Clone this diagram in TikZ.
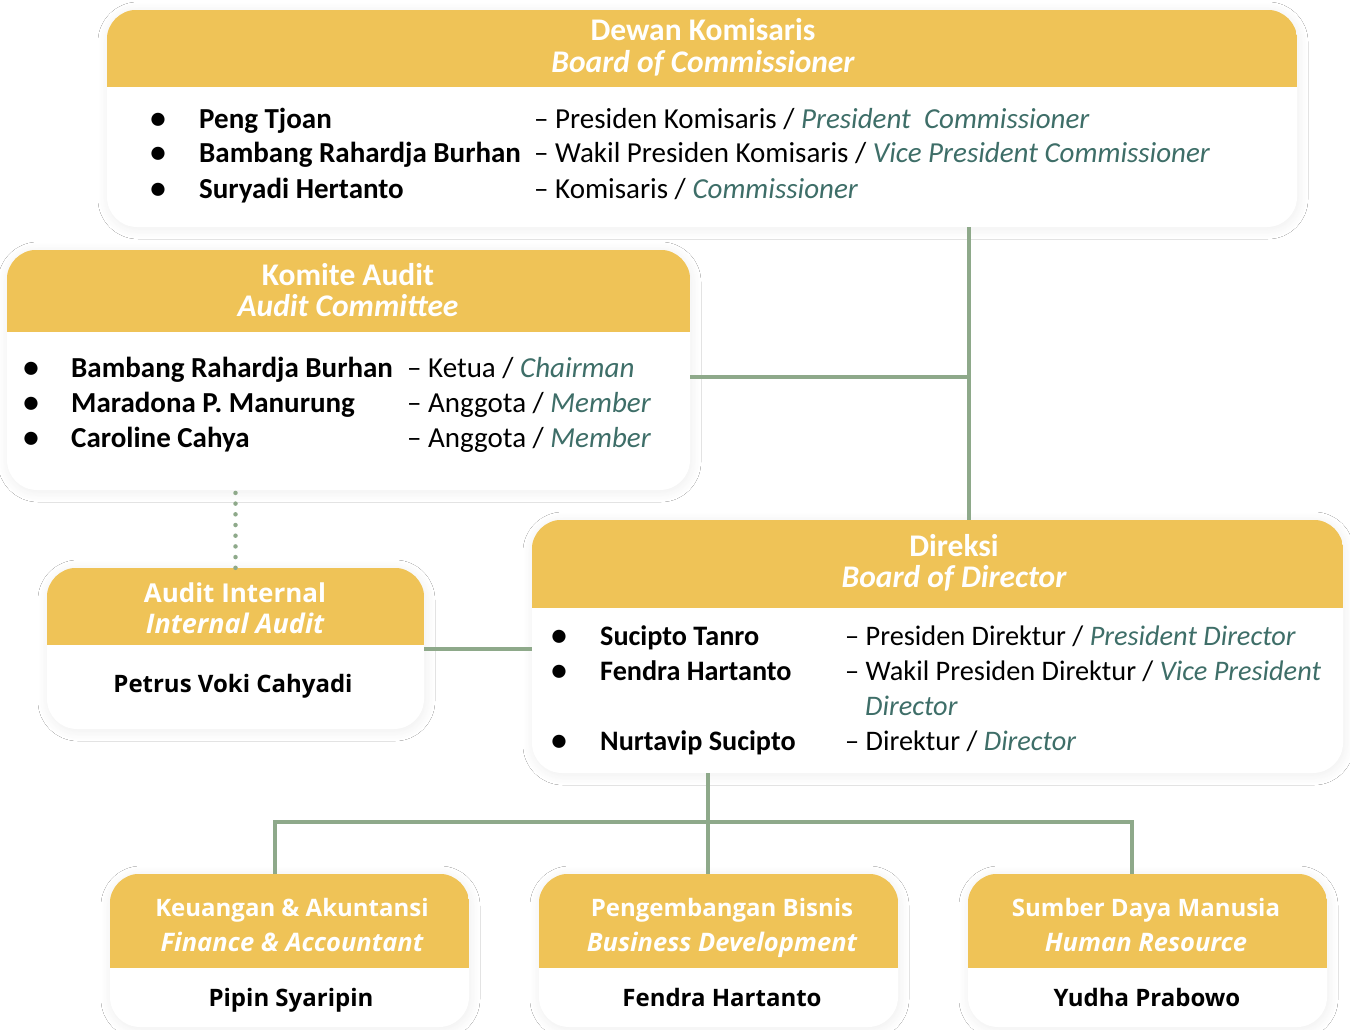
\documentclass[tikz,border=0pt]{standalone}
\usepackage{fontspec}
\setmainfont{Carlito}
\newfontfamily\osfont{Open Sans}
\usetikzlibrary{shadows.blur}
\definecolor{hdr}{HTML}{EFC357}
\definecolor{lnk}{HTML}{8EA98A}
\definecolor{tealtxt}{HTML}{3E6E68}
\tikzset{
  card/.style={fill=white, rounded corners=30pt, inner sep=0pt,
    blur shadow={shadow blur radius=10pt, shadow blur steps=12, shadow xshift=1pt, shadow yshift=-2pt, shadow opacity=7}},
  link/.style={draw=lnk, line width=4pt},
  dotlink/.style={draw=lnk, line width=4.5pt, line cap=round, dash pattern=on 0pt off 10.7pt},
  htxt/.style={text=white, font=\fontsize{31.5}{36}\selectfont\bfseries, anchor=base, inner sep=0pt},
  hit/.style={text=white, font=\fontsize{31.5}{36}\selectfont\bfseries\itshape, anchor=base, inner sep=0pt},
  nm/.style={font=\fontsize{29}{34}\selectfont\bfseries, anchor=base west, inner sep=0pt},
  rl/.style={font=\fontsize{29}{34}\selectfont, anchor=base west, inner sep=0pt},
  dnm/.style={font=\fontsize{28.2}{34}\selectfont\bfseries, anchor=base west, inner sep=0pt},
  drl/.style={font=\fontsize{28.3}{34}\selectfont, anchor=base west, inner sep=0pt},
  bul/.style={font=\fontsize{31}{34}\selectfont\bfseries, anchor=base, inner sep=0pt},
  ohtxt/.style={text=white, font=\osfont\fontsize{24}{30}\selectfont\bfseries, anchor=base, inner sep=0pt},
  ohit/.style={text=white, font=\osfont\fontsize{25.5}{30}\selectfont\bfseries\itshape, anchor=base, inner sep=0pt},
  onm/.style={font=\osfont\fontsize{24}{30}\selectfont\bfseries, anchor=base, inner sep=0pt},
}
\newcommand{\tl}[1]{{\color{tealtxt}\itshape #1}}
\newcommand\mkcard[6]{%
  \pgfmathsetmacro\cw{#4-#2}\pgfmathsetmacro\ch{#5-#3}%
  \pgfmathsetmacro\cx{(#2+#4)/2}\pgfmathsetmacro\cy{(#3+#5)/2}%
  \node[card, minimum width=\cw pt, minimum height=\ch pt] (#1) at (\cx,\cy) {};
  \begin{scope}
    \clip[rounded corners=30pt] (#1.north west) rectangle (#1.south east);
    \fill[hdr] (#2,#3) rectangle (#4,#6);
  \end{scope}}
\begin{document}
\begin{tikzpicture}[x=1pt,y=-1pt]
\useasboundingbox (0,0) rectangle (1350,1030);
\fill[white] (0,0) rectangle (1350,1030);

% cards
\mkcard{dk}{107}{10}{1297}{227}{87}
\mkcard{ka}{7}{250}{690}{490}{332}
\mkcard{dir}{532}{520}{1343}{773}{608}
\mkcard{ai}{47}{568}{424}{729}{645}
\mkcard{b1}{110}{874}{469}{1027}{968}
\mkcard{b2}{539}{874}{898}{1027}{968}
\mkcard{b3}{968}{874}{1327}{1027}{968}

% connectors
\coordinate (j1) at (969,377);
\coordinate (j2) at (708,822);
\draw[link] (dk.south -| j1) -- (dir.north -| j1);
\draw[link] (ka.east |- j1) -- (j1);
\draw[dotlink] (ai.north) -- (ai.north |- ka.south);
\draw[link] (ai.east) -- (ai.east -| dir.west);
\draw[link] (dir.south -| j2) -- (b2.north -| j2);
\draw[link] ([xshift=-14.5pt]b1.north) |- ([xshift=-15.5pt]b3.north |- j2) -- ([xshift=-15.5pt]b3.north);

% Dewan Komisaris
\node[htxt] (dkh1) at (703,41) {Dewan Komisaris};
\node[hit] (dkh2) at (703,73) {Board of Commissioner};
\node[bul] (dkb1) at (158,129) {•};
\node[bul] (dkb2) at (158,163) {•};
\node[bul] (dkb3) at (158,198) {•};
\node[nm] (dkn1) at (199,129) {Peng Tjoan};
\node[nm] (dkn2) at (199,163) {Bambang Rahardja Burhan};
\node[nm] (dkn3) at (199,198) {Suryadi Hertanto};
\node[rl] (dkr1) at (534,129) {– Presiden Komisaris / \tl{President\ \ Commissioner}};
\node[rl] (dkr2) at (534,163) {– Wakil Presiden Komisaris / \tl{Vice President Commissioner}};
\node[rl] (dkr3) at (534,198) {– Komisaris / \tl{Commissioner}};

% Komite Audit
\node[htxt] (kah1) at (348,285) {Komite Audit};
\node[hit] (kah2) at (348,316) {Audit Committee};
\node[bul] (kab1) at (31,377) {•};
\node[bul] (kab2) at (31,412) {•};
\node[bul] (kab3) at (31,447) {•};
\node[nm] (kan1) at (71,377) {Bambang Rahardja Burhan};
\node[nm] (kan2) at (71,412) {Maradona P. Manurung};
\node[nm] (kan3) at (71,447) {Caroline Cahya};
\node[rl] (kar1) at (407,377) {– Ketua / \tl{Chairman}};
\node[rl] (kar2) at (407,412) {– Anggota / \tl{Member}};
\node[rl] (kar3) at (407,447) {– Anggota / \tl{Member}};

% Direksi
\node[htxt] (dih1) at (954,556) {Direksi};
\node[hit] (dih2) at (954,587) {Board of Director};
\node[bul] (dib1) at (559,645) {•};
\node[bul] (dib2) at (559,680) {•};
\node[bul] (dib3) at (559,750) {•};
\node[dnm] (din1) at (600,645) {Sucipto Tanro};
\node[dnm] (din2) at (600,680) {Fendra Hartanto};
\node[dnm] (din3) at (600,750) {Nurtavip Sucipto};
\node[drl] (dir1) at (845,645) {– Presiden Direktur / \tl{President Director}};
\node[drl] (dir2) at (845,680) {– Wakil Presiden Direktur / \tl{Vice President}};
\node[drl] (dir2b) at (865,715) {\tl{Director}};
\node[drl] (dir3) at (845,750) {– Direktur / \tl{Director}};

% Audit Internal
\node[ohtxt, font=\osfont\fontsize{26}{30}\selectfont\bfseries] (aih1) at (235,602) {Audit Internal};
\node[ohit, font=\osfont\fontsize{27}{30}\selectfont\bfseries\itshape] (aih2) at (235,633) {Internal Audit};
\node[onm] (ain) at (233,692) {Petrus Voki Cahyadi};

% bottom units
\node[ohtxt] (b1h1) at (292,916) {Keuangan \& Akuntansi};
\node[ohit] (b1h2) at (292,951) {Finance \& Accountant};
\node[onm] (b1n) at (291,1006) {Pipin Syaripin};
\node[ohtxt] (b2h1) at (722,916) {Pengembangan Bisnis};
\node[ohit] (b2h2) at (722,951) {Business Development};
\node[onm] (b2n) at (722,1006) {Fendra Hartanto};
\node[ohtxt] (b3h1) at (1146,916) {Sumber Daya Manusia};
\node[ohit] (b3h2) at (1146,951) {Human Resource};
\node[onm] (b3n) at (1147,1006) {Yudha Prabowo};
\end{tikzpicture}
\end{document}
